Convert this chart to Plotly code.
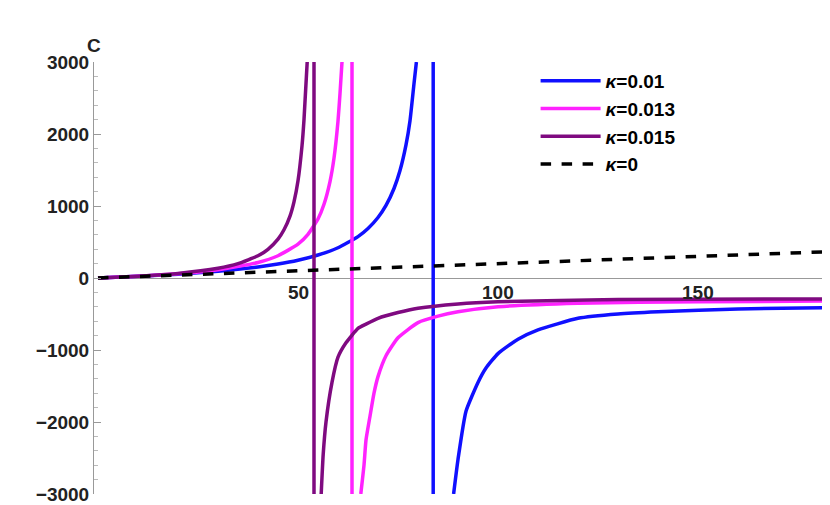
import plotly.graph_objects as go

S_blue_pos = [0, 10, 20, 30, 40, 45, 50, 55, 60, 65, 67.5, 70, 72, 74, 75.5, 77, 78, 79, 79.6]
C_blue_pos = [0, 23, 52, 93, 153, 194, 247, 319, 420, 575, 687, 840, 1008, 1243, 1492, 1848, 2184, 2700, 3000]
S_blue_neg = [88.9, 90, 92, 95, 97, 100, 105, 110, 120, 130, 140, 160, 183]
C_blue_neg = [-3000, -2520, -1850, -1450, -1250, -1050, -850, -720, -560, -500, -470, -430, -410]
blue_asym = 83.8

S_mag_pos = [0, 10, 20, 30, 40, 45, 50, 52.5, 55, 56.5, 58, 59, 60, 60.5, 61]
C_mag_pos = [0, 24, 58, 114, 216, 309, 470, 606, 820, 1025, 1340, 1665, 2180, 2561, 3000]
S_mag_neg = [65.7, 66.5, 67, 68, 69, 70, 72, 75, 80, 85, 90, 100, 120, 150, 183]
C_mag_neg = [-3000, -2600, -2250, -1920, -1600, -1370, -1080, -830, -620, -530, -470, -400, -350, -330, -320]
mag_asym = 63.5

S_pur_pos = [0, 10, 20, 30, 35, 40, 42.5, 45, 46.5, 48, 49, 50, 51, 51.5, 52.3]
C_pur_pos = [0, 25, 64, 135, 199, 309, 399, 540, 670, 860, 1058, 1350, 1836, 2200, 3000]
S_pur_neg = [55.8, 56.3, 57, 58.5, 60, 62, 65, 67, 70, 75, 80, 90, 100, 130, 183]
C_pur_neg = [-3000, -2450, -2000, -1450, -1100, -900, -700, -640, -560, -480, -420, -360, -330, -300, -290]
pur_asym = 54

S_zero = [0, 183]
C_zero = [0, 366]

xticks = [50, 100, 150]

fig = go.Figure()
def add(name, color, sp, cp, sn, cn, asym):
    x = sp + [None, asym, asym, None] + sn
    y = cp + [None, 3000, -3000, None] + cn
    fig.add_trace(go.Scatter(x=x, y=y, mode="lines", name=name,
                             line=dict(color=color, width=3.5, shape="spline", smoothing=0.5)))
add("<b><i>κ</i>=0.01</b>", "#1010ff", S_blue_pos, C_blue_pos, S_blue_neg, C_blue_neg, blue_asym)
add("<b><i>κ</i>=0.013</b>", "#ff22ff", S_mag_pos, C_mag_pos, S_mag_neg, C_mag_neg, mag_asym)
add("<b><i>κ</i>=0.015</b>", "#7f0a80", S_pur_pos, C_pur_pos, S_pur_neg, C_pur_neg, pur_asym)
fig.add_trace(go.Scatter(x=S_zero, y=C_zero, mode="lines", name="<b><i>κ</i>=0</b>",
                         line=dict(color="black", width=3.5, dash="dash")))

for t in xticks:
    fig.add_annotation(x=t, y=0, text=f"<b>{t}</b>", showarrow=False, yanchor="top",
                       yshift=-2, font=dict(size=19, color="#222"))
fig.add_annotation(x=-1, y=3000, text="<b>C</b>", showarrow=False, xanchor="center",
                   yanchor="bottom", yshift=4, font=dict(size=19, color="#222"))
fig.add_annotation(x=1.0, xref="paper", y=0, text="<b>S</b>", showarrow=False, xanchor="right",
                   yanchor="middle", xshift=8, font=dict(size=19, color="#222"))

fig.update_layout(
    width=830, height=505, margin=dict(l=86, r=8, t=54, b=19, autoexpand=False),
    plot_bgcolor="white", paper_bgcolor="white",
    font=dict(family="Liberation Sans", size=19, color="#222"),
    showlegend=True,
    legend=dict(x=0.6, y=1.0, xanchor="left", yanchor="top", font=dict(size=19, color="black"),
                tracegroupgap=10, itemwidth=60, bgcolor="rgba(0,0,0,0)"),
    xaxis=dict(range=[-1, 183], showgrid=False, zeroline=False, showticklabels=False,
               showline=False, automargin=False),
    yaxis=dict(range=[-3000, 3000], showgrid=False, zeroline=True, zerolinecolor="#999",
               zerolinewidth=1, showline=True, linecolor="#999", ticks="inside", automargin=False,
               tickcolor="#999", ticklen=7, tickvals=[-3000, -2000, -1000, 0, 1000, 2000, 3000],
               ticktext=["<b>−3000</b>", "<b>−2000</b>", "<b>−1000</b>", "<b>0</b>",
                         "<b>1000</b>", "<b>2000</b>", "<b>3000</b>"],
               minor=dict(ticks="inside", ticklen=4, tickcolor="#bbb", dtick=200)),
)
fig.write_html("out.html")
